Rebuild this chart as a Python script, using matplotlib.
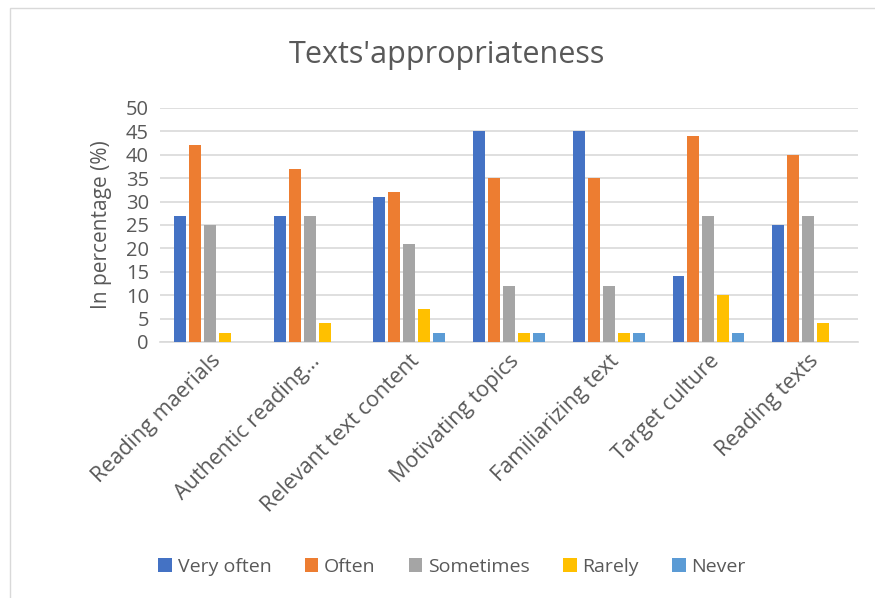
import matplotlib
matplotlib.use("Agg")
import matplotlib.pyplot as plt
import numpy as np
from matplotlib.patches import Rectangle

categories = ["Reading maerials", "Authentic reading…", "Relevant text content",
              "Motivating topics", "Familiarizing text", "Target culture", "Reading texts"]
series_names = ["Very often", "Often", "Sometimes", "Rarely", "Never"]
very_often = [27, 27, 31, 45, 45, 14, 25]
often = [42, 37, 32, 35, 35, 44, 40]
sometimes = [25, 27, 21, 12, 12, 27, 27]
rarely = [2, 4, 7, 2, 2, 10, 4]
never = [0, 0, 2, 2, 2, 2, 0]
colors = ["#4472C4", "#ED7D31", "#A5A5A5", "#FFC000", "#5B9BD5"]

plt.rcParams['font.family'] = ['Open Sans', 'DejaVu Sans']
fig = plt.figure(figsize=(8.75, 5.98), dpi=100)
ax = fig.add_axes([160/875, 1-342/598, 698/875, 234/598])

x = np.arange(len(categories))
data = [very_often, often, sometimes, rarely, never]
step = 0.15
w = 0.12
for i, (name, vals, c) in enumerate(zip(series_names, data, colors)):
    ax.bar(x + (i - 2) * step, vals, w, color=c, label=name, zorder=3)

ax.set_xlim(-0.5, len(categories) - 0.5)
ax.set_ylim(0, 50)
ax.set_yticks(range(0, 51, 5))
ax.yaxis.grid(True, color="#D9D9D9", linewidth=1.2, zorder=0)
for s in ["top", "right", "left"]:
    ax.spines[s].set_visible(False)
ax.spines["bottom"].set_color("#D9D9D9")
ax.spines["bottom"].set_linewidth(1.2)
ax.tick_params(axis="both", length=0, labelcolor="#595959")
ax.tick_params(axis="y", pad=8, labelsize=14.5)
ax.set_xticks(x)
ax.set_xticklabels(categories, rotation=45, ha="right", rotation_mode="anchor")
ax.tick_params(axis="x", pad=6, labelsize=15.5)
ax.set_ylabel("In percentage (%)", fontsize=15, color="#595959", labelpad=10)

fig.text(447/875, 1-55/598, "Texts'appropriateness", ha="center", va="center",
         fontsize=22, color="#595959")

fig.legend(loc="center", bbox_to_anchor=(452/875, 1-567/598), ncol=5, frameon=False,
           fontsize=14, labelcolor="#595959", handlelength=0.7, handleheight=0.7,
           handletextpad=0.3, columnspacing=1.7)

fig.patches.append(Rectangle((10/875, -0.1), 1.2, 1.1 - 8/598, transform=fig.transFigure,
                             fill=False, edgecolor="#D9D9D9", linewidth=1))

fig.savefig("out.png", dpi=100, facecolor="white")
